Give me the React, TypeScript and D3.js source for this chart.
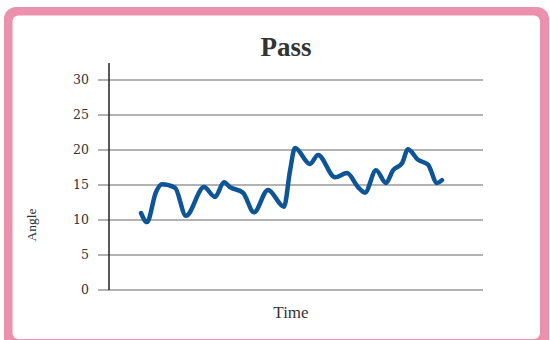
import React from "react";
import * as d3 from "d3";

const title = "Pass";
const xLabel = "Time";
const yLabel = "Angle";
const yTicks = [0, 5, 10, 15, 20, 25, 30];
const times = [6.4, 7.6, 9.4, 10.6, 13.2, 15.4, 19.0, 21.2, 23.0, 24.2, 26.8, 29.0, 31.8, 35.0, 36.2, 37.2, 40.2, 41.8, 45.2, 47.6, 49.8, 51.2, 53.4, 55.4, 56.8, 58.6, 59.8, 61.8, 63.8, 65.6, 66.6];
const angles = [11.0, 9.7, 14.0, 15.1, 14.6, 10.6, 14.7, 13.3, 15.4, 14.7, 13.9, 11.1, 14.3, 11.9, 17.0, 20.3, 18.0, 19.3, 16.1, 16.7, 14.7, 13.9, 17.1, 15.3, 17.1, 18.1, 20.1, 18.6, 17.9, 15.3, 15.7];

export default function App() {
  const W = 550, H = 340;
  const x = d3.scaleLinear().domain([0, 75]).range([109, 484]);
  const y = d3.scaleLinear().domain([0, 30]).range([290, 80]);
  const pts = times.map((t, i) => [t, angles[i]] as [number, number]);
  const line = d3.line<[number, number]>()
    .x(d => x(d[0]))
    .y(d => y(d[1]))
    .curve(d3.curveMonotoneX);
  const serif = "'Liberation Serif', 'Times New Roman', serif";
  const tickFont = "'DejaVu Serif', serif";
  return (
    <div style={{ position: "absolute", left: 0, top: 0, width: W, height: H, overflow: "hidden" }}>
      <svg width={W} height={H} style={{ display: "block" }}>
        <rect x={4} y={7} width={545} height={345} rx={12} fill="#eb91ad" />
        <rect x={12.5} y={15.5} width={527.5} height={323.5} rx={6} fill="#ffffff" />
        <text x={286} y={56} textAnchor="middle" fontFamily={serif} fontWeight="bold" fontSize={27} fill="#333">{title}</text>
        {yTicks.map(t => (
          <g key={t}>
            <line x1={98} x2={483} y1={y(t)} y2={y(t)} stroke="#9a9a9a" strokeWidth={1.5} />
            <text x={89} y={y(t)} dy="0.35em" textAnchor="end" fontFamily={tickFont} fontSize={12.5} fill="#333">{t}</text>
          </g>
        ))}
        <line x1={109} x2={109} y1={63} y2={290} stroke="#222" strokeWidth={1.5} />
        <path d={line(pts) || ""} fill="none" stroke="#0d5597" strokeWidth={4.5} strokeLinejoin="round" strokeLinecap="round" />
        <text x={291} y={318} textAnchor="middle" fontFamily={serif} fontSize={17} fill="#333">{xLabel}</text>
        <text transform={`translate(36,225) rotate(-90)`} textAnchor="middle" fontFamily={serif} fontSize={13.5} fill="#333">{yLabel}</text>
      </svg>
    </div>
  );
}
